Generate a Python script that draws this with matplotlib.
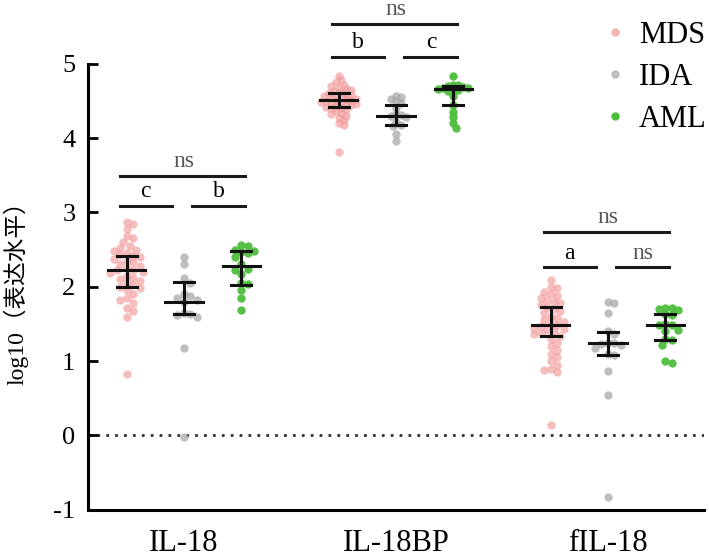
import numpy as np
import matplotlib
matplotlib.use("Agg")
import matplotlib.pyplot as plt
from matplotlib.lines import Line2D

plt.rcParams['font.family'] = ['Liberation Serif', 'Noto Sans CJK SC']

# ---- data ----
genes = ['IL-18', 'IL-18BP', 'fIL-18']
groups = ['MDS', 'IDA', 'AML']
colors = {'MDS': '#F29A9A', 'IDA': '#A8A8A8', 'AML': '#4DBE3C'}

il18_mds = [2.87, 2.85, 2.78, 2.68, 2.65, 2.6, 2.55, 2.52, 2.5, 2.48, 2.45, 2.43, 2.42, 2.4,
            2.38, 2.35, 2.33, 2.3, 2.28, 2.25, 2.23, 2.22, 2.2, 2.18, 2.15, 2.12, 2.1, 2.08,
            2.05, 2.02, 2.0, 1.98, 1.95, 1.9, 1.85, 1.82, 1.78, 1.72, 1.68, 1.6, 0.82]
il18_ida = [2.4, 2.3, 2.12, 2.05, 1.9, 1.88, 1.85, 1.82, 1.8, 1.65, 1.63, 1.62, 1.6, 1.17, -0.02]
il18_aml = [2.56, 2.55, 2.49, 2.48, 2.47, 2.45, 2.4, 2.3, 2.24, 2.23, 2.17, 2.05, 2.04,
            1.96, 1.85, 1.69]

bp_mds = [4.84, 4.78, 4.75, 4.72, 4.7, 4.68, 4.66, 4.65, 4.63, 4.62, 4.6, 4.59, 4.58, 4.57,
          4.56, 4.55, 4.54, 4.53, 4.52, 4.51, 4.5, 4.5, 4.49, 4.48, 4.47, 4.46, 4.45, 4.44,
          4.43, 4.42, 4.41, 4.4, 4.38, 4.36, 4.34, 4.32, 4.3, 4.27, 4.24, 4.2, 4.17, 3.81]
bp_ida = [4.57, 4.55, 4.52, 4.5, 4.47, 4.4, 4.33, 4.31, 4.3, 4.28, 4.22, 4.18, 4.16, 4.05, 3.96]
bp_aml = [4.84, 4.72, 4.71, 4.7, 4.69, 4.68, 4.67, 4.66, 4.65, 4.64, 4.63, 4.57, 4.45,
          4.35, 4.28, 4.2, 4.14]

f_mds = [2.09, 2.0, 1.98, 1.93, 1.9, 1.88, 1.85, 1.82, 1.8, 1.78, 1.75, 1.73, 1.7, 1.68,
         1.65, 1.6, 1.58, 1.55, 1.52, 1.5, 1.48, 1.47, 1.45, 1.43, 1.42, 1.4, 1.38, 1.36,
         1.34, 1.3, 1.25, 1.2, 1.15, 1.1, 1.05, 1.0, 0.95, 0.9, 0.88, 0.86, 0.14]
f_ida = [1.79, 1.78, 1.65, 1.4, 1.36, 1.25, 1.24, 1.23, 1.22, 1.18, 1.1, 1.08, 0.87, 0.55, -0.83]
f_aml = [1.72, 1.71, 1.7, 1.69, 1.63, 1.62, 1.5, 1.49, 1.48, 1.42, 1.4, 1.3, 1.28, 1.22,
         1.0, 0.97]

values = [[il18_mds, il18_ida, il18_aml],
          [bp_mds, bp_ida, bp_aml],
          [f_mds, f_ida, f_aml]]

# median, lower quartile, upper quartile
medians = [[2.22, 1.80, 2.28], [4.51, 4.30, 4.66], [1.48, 1.24, 1.49]]
q_low = [[2.00, 1.63, 2.03], [4.42, 4.17, 4.45], [1.34, 1.08, 1.29]]
q_high = [[2.42, 2.07, 2.48], [4.61, 4.45, 4.70], [1.73, 1.39, 1.63]]

# significance labels: (overall, MDS vs IDA, IDA vs AML) and bracket heights
sig_labels = [['ns', 'c', 'b'], ['ns', 'b', 'c'], ['ns', 'a', 'ns']]
sig_top = [3.49, 5.54, 2.74]
sig_low = [3.09, 5.09, 2.26]

offsets = [-0.27, 0.0, 0.27]
swarm_gap = [6.5, 5.0, 6.5]   # point spacing in pixels per gene

fig = plt.figure(figsize=(7.09, 5.59), dpi=100)
ax = fig.add_axes([0.124, 0.088, 0.869, 0.798])
ax.set_xlim(-0.453, 2.453)
ax.set_ylim(-1, 5)


def swarm(ys, xc, spacing_px):
    # simple beeswarm in pixel space
    order = np.argsort(ys)[::-1]
    pts = ax.transData.transform(np.column_stack([np.full(len(ys), xc), ys]))
    placed = []
    xs_px = np.zeros(len(ys))
    for i in order:
        px, py = pts[i]
        best = None
        for k in range(0, 60):
            for sgn in ([0] if k == 0 else [1, -1]):
                cand = px + sgn * k * spacing_px / 2.0
                ok = all((cand - qx) ** 2 + (py - qy) ** 2 >= spacing_px ** 2 for qx, qy in placed)
                if ok:
                    best = cand
                    break
            if best is not None:
                break
        placed.append((best, py))
        xs_px[i] = best
    data = ax.transData.inverted().transform(np.column_stack([xs_px, pts[:, 1]]))
    return data[:, 0]


for gi, gene in enumerate(genes):
    for si, grp in enumerate(groups):
        xc = gi + offsets[si]
        ys = np.array(values[gi][si])
        xs = swarm(ys, xc, swarm_gap[gi])
        alpha = 0.65 if grp == 'MDS' else (0.75 if grp == 'IDA' else 0.95)
        ax.scatter(xs, ys, s=36, color=colors[grp], alpha=alpha, linewidths=0,
                   zorder=3, clip_on=False)
        # median + IQR
        ax.plot([xc - 0.088, xc + 0.088], [medians[gi][si]] * 2, color='#111111', lw=2.2, zorder=5)
        ax.plot([xc, xc], [q_low[gi][si], q_high[gi][si]], color='#111111', lw=2.2, zorder=5)
        for q in (q_low[gi][si], q_high[gi][si]):
            ax.plot([xc - 0.047, xc + 0.047], [q, q], color='#111111', lw=2.2, zorder=5)

    # brackets
    ax.plot([gi - 0.30, gi + 0.29], [sig_top[gi]] * 2, color='#1a1a1a', lw=2.2, clip_on=False)
    ax.plot([gi - 0.30, gi - 0.055], [sig_low[gi]] * 2, color='#1a1a1a', lw=2.2, clip_on=False)
    ax.plot([gi + 0.04, gi + 0.29], [sig_low[gi]] * 2, color='#1a1a1a', lw=2.2, clip_on=False)
    for lab, xt, yt in [(sig_labels[gi][0], gi, sig_top[gi]),
                        (sig_labels[gi][1], gi - 0.18, sig_low[gi]),
                        (sig_labels[gi][2], gi + 0.165, sig_low[gi])]:
        col = '#555555' if lab == 'ns' else 'black'
        ax.text(xt, yt + 0.12, lab, ha='center', va='baseline', fontsize=17, color=col)

ax.axhline(0, color='#333333', lw=2.0, linestyle=(0, (1, 2.2)), zorder=1)

ax.set_xticks(range(len(genes)))
ax.set_xticklabels(genes, fontsize=22)
ax.tick_params(axis='x', length=0, pad=14)
ax.set_yticks(range(-1, 6))
ax.set_yticklabels([str(v) for v in range(-1, 6)])
ax.tick_params(axis='y', direction='in', length=7, width=2, labelsize=19, pad=9)

for s in ['top', 'right']:
    ax.spines[s].set_visible(False)
for s in ['left', 'bottom']:
    ax.spines[s].set_linewidth(2.2)

ax.set_ylabel('log10（表达水平）', fontsize=17, labelpad=18)

handles = [Line2D([], [], marker='o', linestyle='', markersize=5, color=colors[g],
                  alpha=0.7 if g != 'AML' else 1.0) for g in groups]
fig.legend(handles, groups, loc='upper left', bbox_to_anchor=(0.828, 0.995), frameon=False,
           fontsize=22, handlelength=0.6, handletextpad=0.5, labelspacing=0.42,
           borderaxespad=0.2)

fig.savefig('out.png', dpi=100)
